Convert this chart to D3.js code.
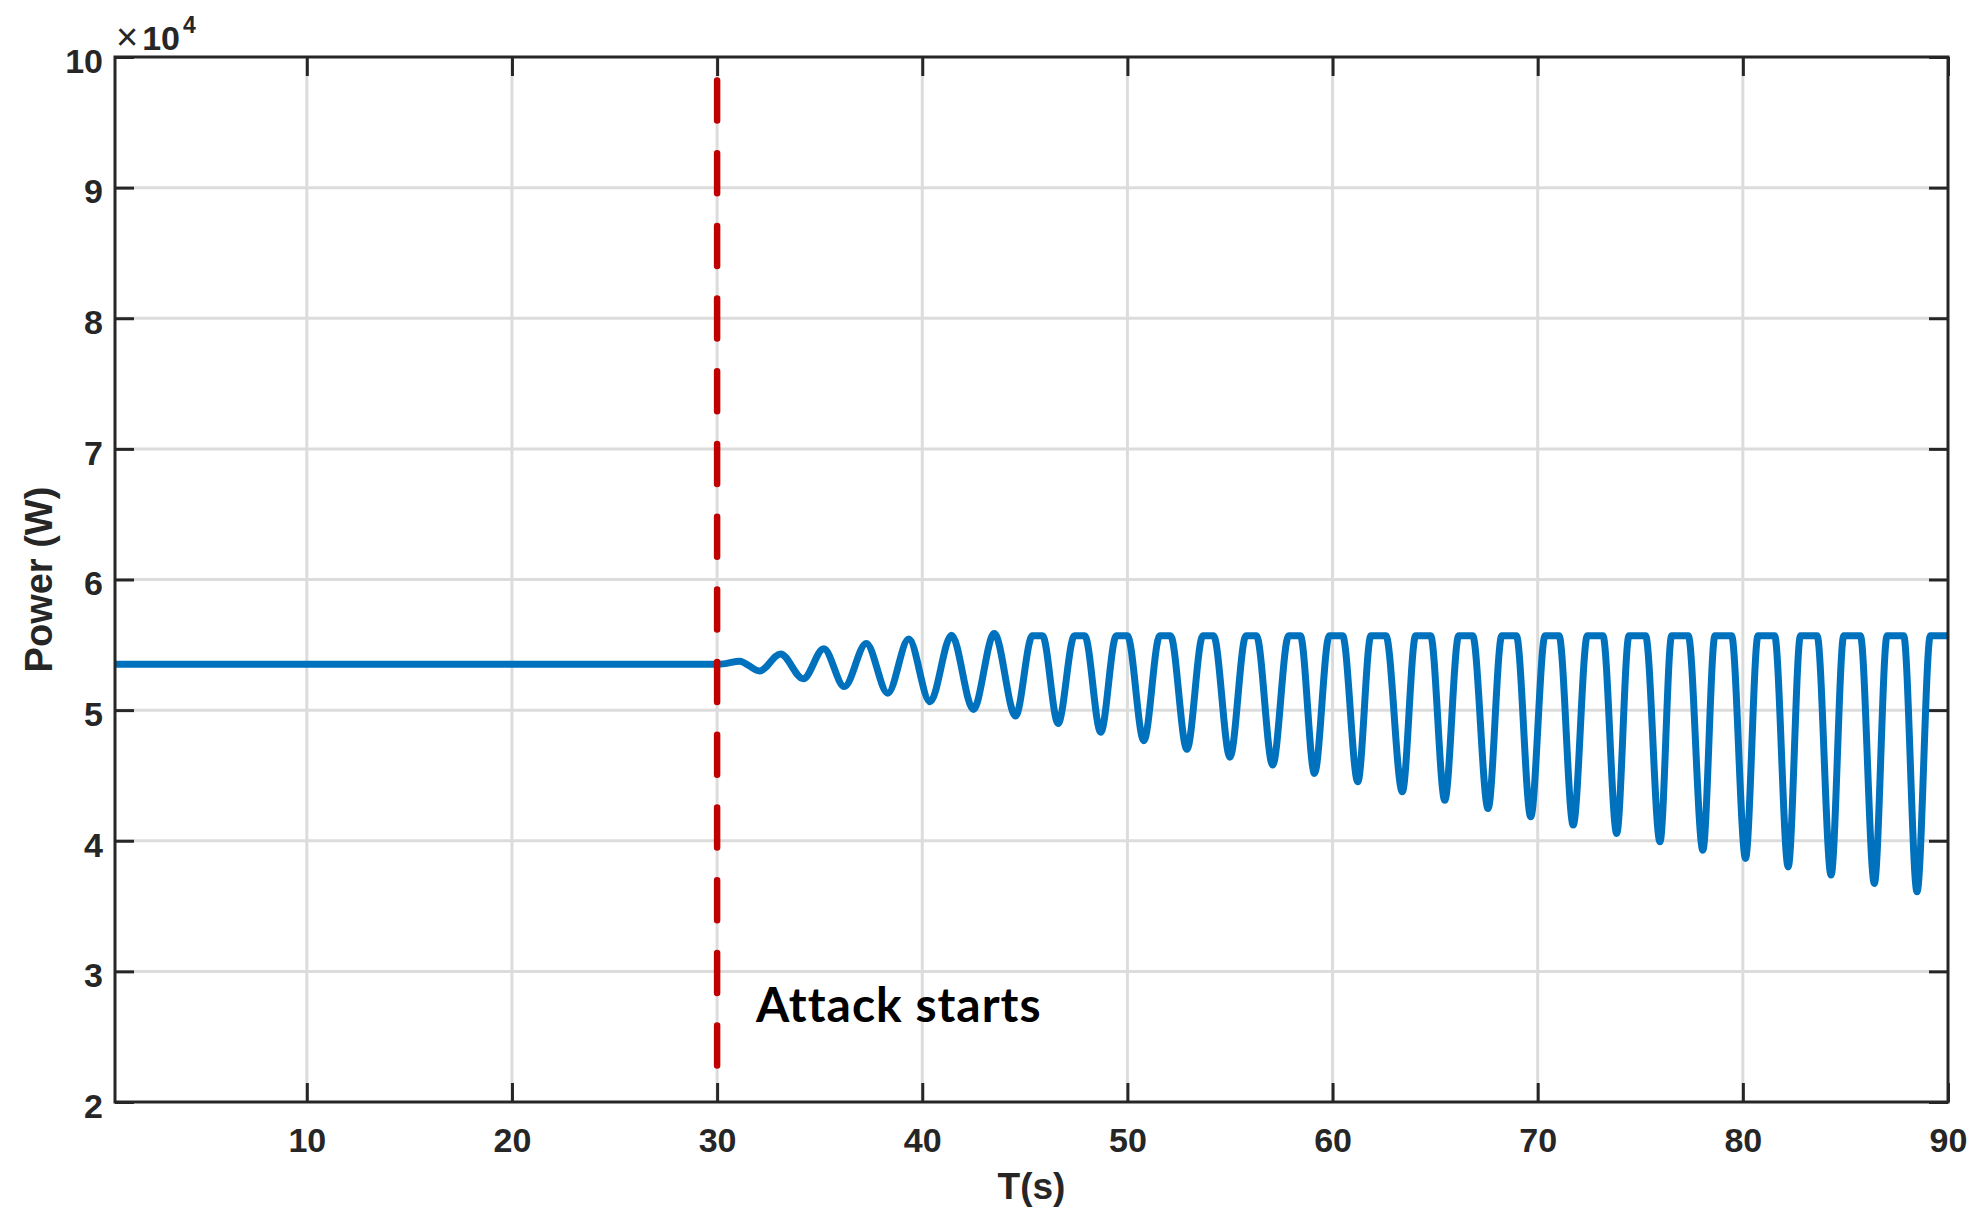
<!DOCTYPE html>
<html>
<head>
<meta charset="utf-8">
<script src="https://cdn.jsdelivr.net/npm/d3@7"></script>
<style>
  html, body { margin: 0; padding: 0; background: #fff; }
  svg { display: block; }
</style>
</head>
<body>
<svg id="chart" width="1978" height="1222"></svg>
<script>
// ---- data ----
const timeS = [0.65, 30.0, 30.4, 31.09, 32.07, 33.09, 34.2, 35.2, 36.2, 37.27, 38.32, 39.34, 40.38, 41.43, 42.49, 43.51,
  44.55, 45.37, 45.86, 46.62, 47.42, 47.92, 48.7, 49.46, 50.0, 50.8, 51.58, 52.1, 52.9, 53.68, 54.2,
  55.0, 55.78, 56.29, 57.08, 57.86, 58.43, 59.12, 59.84, 60.49, 61.23, 61.87, 62.6, 63.4, 64.05, 64.78,
  65.47, 66.15, 66.83, 67.58, 68.25, 68.96, 69.66, 70.36, 71.04, 71.73, 72.42, 73.18, 73.85, 74.45, 75.26,
  75.96, 76.53, 77.34, 78.05, 78.64, 79.45, 80.13, 80.74, 81.55, 82.21, 82.81, 83.62, 84.30, 84.92, 85.73,
  86.41, 87.03, 87.84, 88.49, 89.14, 90.0];
const powerW = [53520, 53520, 53560, 53750, 53000, 54300, 52400, 54700, 51800, 55100, 51300, 55440, 50640, 55740, 50050, 55870,
  49550, 55700, 55700, 48980, 55700, 55700, 48300, 55700, 55700, 47650, 55700, 55700, 47000, 55700, 55700,
  46400, 55700, 55700, 45790, 55700, 55700, 45150, 55700, 55700, 44520, 55700, 55700, 43750, 55700, 55700,
  43100, 55700, 55700, 42470, 55700, 55700, 41830, 55700, 55700, 41200, 55700, 55700, 40560, 55700, 55700,
  39920, 55700, 55700, 39280, 55700, 55700, 38650, 55700, 55700, 38000, 55700, 55700, 37370, 55700, 55700,
  36730, 55700, 55700, 36090, 55700, 55700];
const xTicks = [10, 20, 30, 40, 50, 60, 70, 80, 90];
const yTicks = [20000, 30000, 40000, 50000, 60000, 70000, 80000, 90000, 100000];
const xGrid = [10, 20, 30, 40, 50, 60, 70, 80];
const yGrid = [30000, 40000, 50000, 60000, 70000, 80000, 90000];
const attackTime = 30;
const attackSpan = [98200, 22700];
const attackLabel = "Attack starts";
const xLabel = "T(s)";
const yLabel = "Power (W)";

// ---- layout ----
const L = 115, T = 57, R = 1948, B = 1102;
const svg = d3.select("#chart");
const x = d3.scaleLinear().domain([0.65, 90]).range([L, R]);
const y = d3.scaleLinear().domain([20000, 100000]).range([B, T]);
const axisColor = "#262626";
const tickFont = "'Liberation Sans', Arial, Helvetica, sans-serif";

// grid
const g = svg.append("g");
g.selectAll(".gx").data(xGrid).join("line")
  .attr("x1", d => x(d)).attr("x2", d => x(d)).attr("y1", T).attr("y2", B)
  .attr("stroke", "#dcdcdc").attr("stroke-width", 3);
g.selectAll(".gy").data(yGrid).join("line")
  .attr("x1", L).attr("x2", R).attr("y1", d => y(d)).attr("y2", d => y(d))
  .attr("stroke", "#dcdcdc").attr("stroke-width", 3);

// data line
const line = d3.line().x((d, i) => x(timeS[i])).y((d, i) => y(powerW[i])).curve(d3.curveMonotoneX);
svg.append("path").datum(powerW).attr("d", line)
  .attr("fill", "none").attr("stroke", "#0072BD").attr("stroke-width", 7)
  .attr("stroke-linejoin", "round");

// attack marker
svg.append("line")
  .attr("x1", x(attackTime)).attr("x2", x(attackTime))
  .attr("y1", y(attackSpan[0])).attr("y2", y(attackSpan[1]))
  .attr("stroke", "#C00000").attr("stroke-width", 6.5)
  .attr("stroke-dasharray", "40 32.7").attr("stroke-linecap", "round");

svg.append("text").attr("x", 756).attr("y", 1022)
  .attr("font-family", "Lato, 'Open Sans', sans-serif").attr("font-weight", 700)
  .attr("font-size", 48).attr("letter-spacing", 1).attr("fill", "#000").text(attackLabel);

// axes
function styleAxis(sel) {
  sel.select(".domain").remove();
  sel.selectAll(".tick line").attr("stroke", axisColor).attr("stroke-width", 3);
  sel.selectAll(".tick text").attr("fill", axisColor)
    .attr("font-family", tickFont).attr("font-weight", "bold").attr("font-size", 34);
}
const xa = svg.append("g").attr("transform", `translate(0,${B})`)
  .call(d3.axisBottom(x).tickValues(xTicks).tickSizeInner(-19).tickSizeOuter(0).tickPadding(26).tickFormat(d3.format("d")));
styleAxis(xa);
const xt = svg.append("g").attr("transform", `translate(0,${T})`)
  .call(d3.axisTop(x).tickValues(xTicks).tickSizeInner(-19).tickSizeOuter(0).tickFormat(""));
styleAxis(xt);
const ya = svg.append("g").attr("transform", `translate(${L},0)`)
  .call(d3.axisLeft(y).tickValues(yTicks).tickSizeInner(-19).tickSizeOuter(0).tickPadding(12).tickFormat(d => d3.format("d")(d / 1e4)));
styleAxis(ya);
ya.selectAll(".tick text").attr("dy", "0.45em");
const yr = svg.append("g").attr("transform", `translate(${R},0)`)
  .call(d3.axisRight(y).tickValues(yTicks).tickSizeInner(-19).tickSizeOuter(0).tickFormat(""));
styleAxis(yr);

// box
svg.append("rect").attr("x", L).attr("y", T).attr("width", R - L).attr("height", B - T)
  .attr("fill", "none").attr("stroke", axisColor).attr("stroke-width", 3);

// exponent label
const ex = svg.append("text").attr("x", 116).attr("y", 50)
  .attr("font-family", tickFont).attr("fill", axisColor).attr("font-size", 34);
ex.append("tspan").attr("font-weight", "normal").attr("font-size", 38).text("\u00D7");
ex.append("tspan").attr("font-weight", "bold").attr("dx", 4).text("10");
ex.append("tspan").attr("font-weight", "bold").attr("font-size", 23).attr("dx", 3).attr("dy", -17).text("4");

// axis labels
svg.append("text").attr("x", (L + R) / 2).attr("y", 1199).attr("text-anchor", "middle")
  .attr("font-family", tickFont).attr("font-weight", "bold").attr("font-size", 37)
  .attr("fill", axisColor).text(xLabel);
svg.append("text").attr("transform", `translate(52,${(T + B) / 2}) rotate(-90)`).attr("text-anchor", "middle")
  .attr("font-family", tickFont).attr("font-weight", "bold").attr("font-size", 38)
  .attr("fill", axisColor).text(yLabel);
</script>
</body>
</html>
